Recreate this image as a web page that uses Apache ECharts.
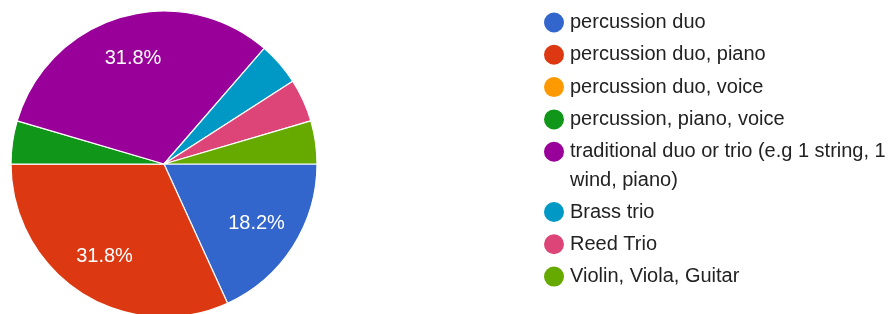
<!DOCTYPE html>
<html><head><meta charset="utf-8">
<script src="https://cdn.jsdelivr.net/npm/echarts@6/dist/echarts.min.js"></script>
<style>html,body{margin:0;padding:0;background:#fff}#c{width:896px;height:314px}</style>
</head><body><div id="c"></div>
<script>
const categories = ["percussion duo","percussion duo, piano","percussion duo, voice","percussion, piano, voice","traditional duo or trio (e.g 1 string, 1 wind, piano)","Brass trio","Reed Trio","Violin, Viola, Guitar"];
const counts = [4, 7, 0, 1, 7, 1, 1, 1];
const colors = ["#3366cc","#dc3912","#ff9900","#109618","#990099","#0099c6","#dd4477","#66aa00"];
const purpleLines = ["traditional duo or trio (e.g 1 string, 1", "wind, piano)"];

const sliceData = categories.map((c, i) => ({name: c, value: counts[i], itemStyle: {color: colors[i]}}));
const labelData = categories.map((c, i) => ({name: c, value: counts[i]}));
const FONT = "'Liberation Sans', Arial, sans-serif";
const legendCommon = {
  orient: 'vertical', left: 542, padding: 0, icon: 'circle', itemWidth: 22, itemHeight: 22,
  itemGap: 8.3, itemTextGap: 11, selectedMode: false,
  textStyle: {fontFamily: FONT, fontSize: 20, color: '#222', lineHeight: 20},
  formatter: n => n === categories[4] ? purpleLines[0] : n
};
const chart = echarts.init(document.getElementById('c'));
chart.setOption({
  animation: false,
  legend: [
    Object.assign({}, legendCommon, {top: 10.5, data: categories.slice(0, 5)}),
    Object.assign({}, legendCommon, {top: 200, data: categories.slice(5)})
  ],
  graphic: [{type: 'text', left: 570, top: 170.5, style: {text: purpleLines[1], font: '20px ' + FONT, fill: '#222'}}],
  series: [
    {type: 'pie', center: [164, 164], radius: 153, startAngle: 0, clockwise: true,
     data: sliceData, label: {show: false}, labelLine: {show: false},
     itemStyle: {borderColor: '#fff', borderWidth: 1.2}, emphasis: {disabled: true}},
    {type: 'pie', center: [164, 164], radius: [61, 153], startAngle: 0, clockwise: true,
     percentPrecision: 1, silent: true, legendHoverLink: false,
     data: labelData, itemStyle: {color: 'rgba(0,0,0,0)', borderWidth: 0},
     label: {show: true, position: 'inside', color: '#fff', fontFamily: FONT, fontSize: 20,
       formatter: p => p.percent >= 10 ? p.percent + '%' : ''},
     labelLine: {show: false}, emphasis: {disabled: true}}
  ]
});
</script></body></html>
